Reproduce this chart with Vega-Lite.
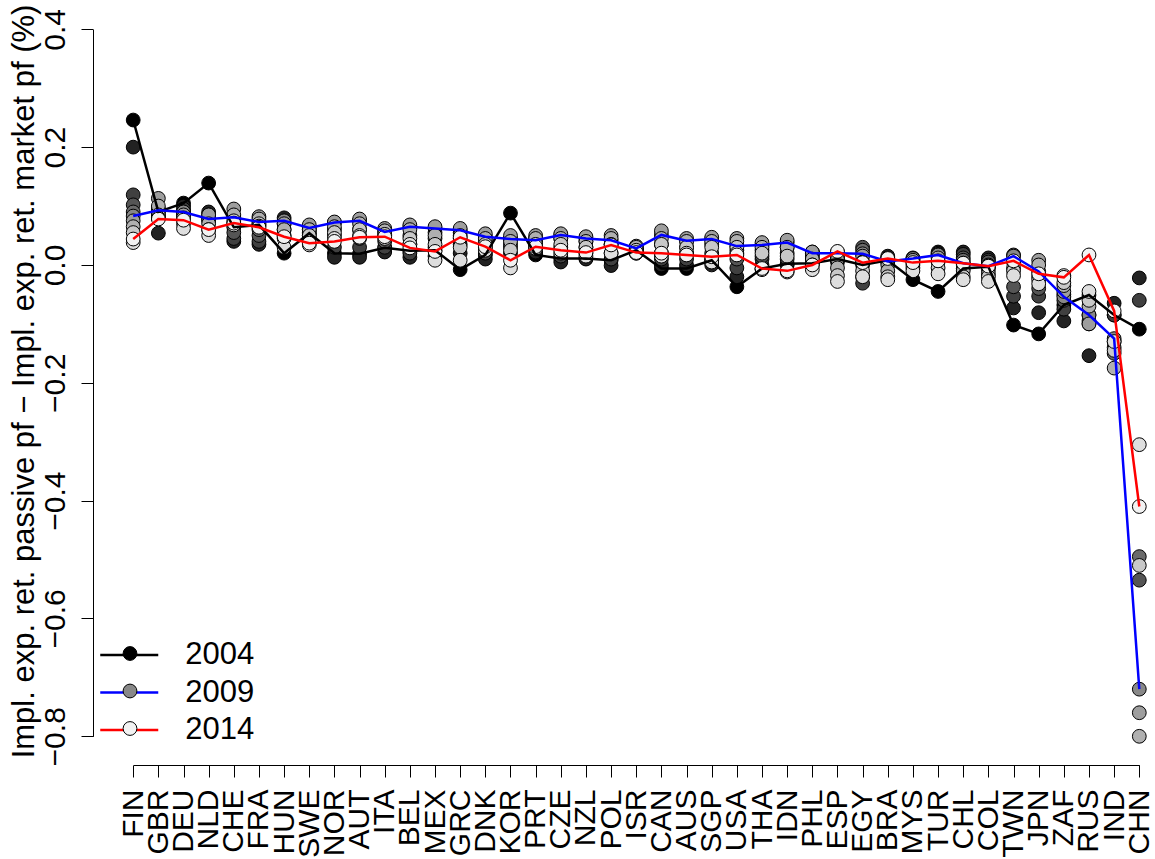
{
"$schema": "https://vega.github.io/schema/vega-lite/v6.json",
"width": 1062, "height": 763,
"autosize": {"type": "none"},
"padding": {"left": 93, "top": 2, "right": 0, "bottom": 94},
"background": "white",
"config": {"view": {"stroke": null}, "font": "Liberation Sans"},
"data": {"values": [
{"c":"FIN","yr":2004,"v":0.246},{"c":"FIN","yr":2005,"v":0.200},{"c":"FIN","yr":2006,"v":0.119},{"c":"FIN","yr":2007,"v":0.102},{"c":"FIN","yr":2008,"v":0.090},{"c":"FIN","yr":2009,"v":0.083},{"c":"FIN","yr":2010,"v":0.075},{"c":"FIN","yr":2011,"v":0.065},{"c":"FIN","yr":2012,"v":0.055},{"c":"FIN","yr":2013,"v":0.038},{"c":"FIN","yr":2014,"v":0.044},
{"c":"GBR","yr":2004,"v":0.090},{"c":"GBR","yr":2005,"v":0.054},{"c":"GBR","yr":2006,"v":0.080},{"c":"GBR","yr":2007,"v":0.085},{"c":"GBR","yr":2008,"v":0.095},{"c":"GBR","yr":2009,"v":0.093},{"c":"GBR","yr":2010,"v":0.113},{"c":"GBR","yr":2011,"v":0.100},{"c":"GBR","yr":2012,"v":0.085},{"c":"GBR","yr":2013,"v":0.080},{"c":"GBR","yr":2014,"v":0.078},
{"c":"DEU","yr":2004,"v":0.105},{"c":"DEU","yr":2005,"v":0.100},{"c":"DEU","yr":2006,"v":0.095},{"c":"DEU","yr":2007,"v":0.090},{"c":"DEU","yr":2008,"v":0.085},{"c":"DEU","yr":2009,"v":0.090},{"c":"DEU","yr":2010,"v":0.085},{"c":"DEU","yr":2011,"v":0.080},{"c":"DEU","yr":2012,"v":0.070},{"c":"DEU","yr":2013,"v":0.062},{"c":"DEU","yr":2014,"v":0.076},
{"c":"NLD","yr":2004,"v":0.139},{"c":"NLD","yr":2005,"v":0.090},{"c":"NLD","yr":2006,"v":0.085},{"c":"NLD","yr":2007,"v":0.080},{"c":"NLD","yr":2008,"v":0.075},{"c":"NLD","yr":2009,"v":0.078},{"c":"NLD","yr":2010,"v":0.085},{"c":"NLD","yr":2011,"v":0.070},{"c":"NLD","yr":2012,"v":0.060},{"c":"NLD","yr":2013,"v":0.050},{"c":"NLD","yr":2014,"v":0.060},
{"c":"CHE","yr":2004,"v":0.064},{"c":"CHE","yr":2005,"v":0.040},{"c":"CHE","yr":2006,"v":0.045},{"c":"CHE","yr":2007,"v":0.055},{"c":"CHE","yr":2008,"v":0.070},{"c":"CHE","yr":2009,"v":0.081},{"c":"CHE","yr":2010,"v":0.095},{"c":"CHE","yr":2011,"v":0.085},{"c":"CHE","yr":2012,"v":0.075},{"c":"CHE","yr":2013,"v":0.068},{"c":"CHE","yr":2014,"v":0.071},
{"c":"FRA","yr":2004,"v":0.068},{"c":"FRA","yr":2005,"v":0.035},{"c":"FRA","yr":2006,"v":0.040},{"c":"FRA","yr":2007,"v":0.050},{"c":"FRA","yr":2008,"v":0.060},{"c":"FRA","yr":2009,"v":0.073},{"c":"FRA","yr":2010,"v":0.082},{"c":"FRA","yr":2011,"v":0.078},{"c":"FRA","yr":2012,"v":0.070},{"c":"FRA","yr":2013,"v":0.066},{"c":"FRA","yr":2014,"v":0.064},
{"c":"HUN","yr":2004,"v":0.020},{"c":"HUN","yr":2005,"v":0.080},{"c":"HUN","yr":2006,"v":0.070},{"c":"HUN","yr":2007,"v":0.060},{"c":"HUN","yr":2008,"v":0.050},{"c":"HUN","yr":2009,"v":0.075},{"c":"HUN","yr":2010,"v":0.070},{"c":"HUN","yr":2011,"v":0.060},{"c":"HUN","yr":2012,"v":0.045},{"c":"HUN","yr":2013,"v":0.030},{"c":"HUN","yr":2014,"v":0.048},
{"c":"SWE","yr":2004,"v":0.054},{"c":"SWE","yr":2005,"v":0.045},{"c":"SWE","yr":2006,"v":0.050},{"c":"SWE","yr":2007,"v":0.055},{"c":"SWE","yr":2008,"v":0.060},{"c":"SWE","yr":2009,"v":0.063},{"c":"SWE","yr":2010,"v":0.068},{"c":"SWE","yr":2011,"v":0.060},{"c":"SWE","yr":2012,"v":0.050},{"c":"SWE","yr":2013,"v":0.034},{"c":"SWE","yr":2014,"v":0.037},
{"c":"NOR","yr":2004,"v":0.020},{"c":"NOR","yr":2005,"v":0.013},{"c":"NOR","yr":2006,"v":0.030},{"c":"NOR","yr":2007,"v":0.050},{"c":"NOR","yr":2008,"v":0.060},{"c":"NOR","yr":2009,"v":0.072},{"c":"NOR","yr":2010,"v":0.073},{"c":"NOR","yr":2011,"v":0.065},{"c":"NOR","yr":2012,"v":0.055},{"c":"NOR","yr":2013,"v":0.045},{"c":"NOR","yr":2014,"v":0.040},
{"c":"AUT","yr":2004,"v":0.019},{"c":"AUT","yr":2005,"v":0.013},{"c":"AUT","yr":2006,"v":0.030},{"c":"AUT","yr":2007,"v":0.045},{"c":"AUT","yr":2008,"v":0.060},{"c":"AUT","yr":2009,"v":0.075},{"c":"AUT","yr":2010,"v":0.078},{"c":"AUT","yr":2011,"v":0.070},{"c":"AUT","yr":2012,"v":0.060},{"c":"AUT","yr":2013,"v":0.050},{"c":"AUT","yr":2014,"v":0.047},
{"c":"ITA","yr":2004,"v":0.029},{"c":"ITA","yr":2005,"v":0.022},{"c":"ITA","yr":2006,"v":0.030},{"c":"ITA","yr":2007,"v":0.040},{"c":"ITA","yr":2008,"v":0.050},{"c":"ITA","yr":2009,"v":0.056},{"c":"ITA","yr":2010,"v":0.062},{"c":"ITA","yr":2011,"v":0.058},{"c":"ITA","yr":2012,"v":0.052},{"c":"ITA","yr":2013,"v":0.045},{"c":"ITA","yr":2014,"v":0.048},
{"c":"BEL","yr":2004,"v":0.024},{"c":"BEL","yr":2005,"v":0.013},{"c":"BEL","yr":2006,"v":0.020},{"c":"BEL","yr":2007,"v":0.035},{"c":"BEL","yr":2008,"v":0.050},{"c":"BEL","yr":2009,"v":0.065},{"c":"BEL","yr":2010,"v":0.068},{"c":"BEL","yr":2011,"v":0.060},{"c":"BEL","yr":2012,"v":0.045},{"c":"BEL","yr":2013,"v":0.035},{"c":"BEL","yr":2014,"v":0.029},
{"c":"MEX","yr":2004,"v":0.025},{"c":"MEX","yr":2005,"v":0.015},{"c":"MEX","yr":2006,"v":0.030},{"c":"MEX","yr":2007,"v":0.045},{"c":"MEX","yr":2008,"v":0.055},{"c":"MEX","yr":2009,"v":0.062},{"c":"MEX","yr":2010,"v":0.065},{"c":"MEX","yr":2011,"v":0.050},{"c":"MEX","yr":2012,"v":0.035},{"c":"MEX","yr":2013,"v":0.008},{"c":"MEX","yr":2014,"v":0.023},
{"c":"GRC","yr":2004,"v":-0.008},{"c":"GRC","yr":2005,"v":0.020},{"c":"GRC","yr":2006,"v":0.035},{"c":"GRC","yr":2007,"v":0.045},{"c":"GRC","yr":2008,"v":0.055},{"c":"GRC","yr":2009,"v":0.059},{"c":"GRC","yr":2010,"v":0.062},{"c":"GRC","yr":2011,"v":0.050},{"c":"GRC","yr":2012,"v":0.030},{"c":"GRC","yr":2013,"v":0.008},{"c":"GRC","yr":2014,"v":0.047},
{"c":"DNK","yr":2004,"v":0.017},{"c":"DNK","yr":2005,"v":0.010},{"c":"DNK","yr":2006,"v":0.020},{"c":"DNK","yr":2007,"v":0.030},{"c":"DNK","yr":2008,"v":0.040},{"c":"DNK","yr":2009,"v":0.048},{"c":"DNK","yr":2010,"v":0.053},{"c":"DNK","yr":2011,"v":0.045},{"c":"DNK","yr":2012,"v":0.035},{"c":"DNK","yr":2013,"v":0.025},{"c":"DNK","yr":2014,"v":0.031},
{"c":"KOR","yr":2004,"v":0.088},{"c":"KOR","yr":2005,"v":0.020},{"c":"KOR","yr":2006,"v":0.030},{"c":"KOR","yr":2007,"v":0.035},{"c":"KOR","yr":2008,"v":0.045},{"c":"KOR","yr":2009,"v":0.044},{"c":"KOR","yr":2010,"v":0.050},{"c":"KOR","yr":2011,"v":0.040},{"c":"KOR","yr":2012,"v":0.025},{"c":"KOR","yr":2013,"v":-0.005},{"c":"KOR","yr":2014,"v":0.008},
{"c":"PRT","yr":2004,"v":0.017},{"c":"PRT","yr":2005,"v":0.022},{"c":"PRT","yr":2006,"v":0.030},{"c":"PRT","yr":2007,"v":0.038},{"c":"PRT","yr":2008,"v":0.045},{"c":"PRT","yr":2009,"v":0.042},{"c":"PRT","yr":2010,"v":0.050},{"c":"PRT","yr":2011,"v":0.045},{"c":"PRT","yr":2012,"v":0.035},{"c":"PRT","yr":2013,"v":0.028},{"c":"PRT","yr":2014,"v":0.031},
{"c":"CZE","yr":2004,"v":0.011},{"c":"CZE","yr":2005,"v":0.005},{"c":"CZE","yr":2006,"v":0.015},{"c":"CZE","yr":2007,"v":0.030},{"c":"CZE","yr":2008,"v":0.045},{"c":"CZE","yr":2009,"v":0.051},{"c":"CZE","yr":2010,"v":0.053},{"c":"CZE","yr":2011,"v":0.045},{"c":"CZE","yr":2012,"v":0.035},{"c":"CZE","yr":2013,"v":0.020},{"c":"CZE","yr":2014,"v":0.025},
{"c":"NZL","yr":2004,"v":0.011},{"c":"NZL","yr":2005,"v":0.010},{"c":"NZL","yr":2006,"v":0.020},{"c":"NZL","yr":2007,"v":0.030},{"c":"NZL","yr":2008,"v":0.040},{"c":"NZL","yr":2009,"v":0.045},{"c":"NZL","yr":2010,"v":0.048},{"c":"NZL","yr":2011,"v":0.040},{"c":"NZL","yr":2012,"v":0.030},{"c":"NZL","yr":2013,"v":0.015},{"c":"NZL","yr":2014,"v":0.021},
{"c":"POL","yr":2004,"v":0.008},{"c":"POL","yr":2005,"v":-0.001},{"c":"POL","yr":2006,"v":0.010},{"c":"POL","yr":2007,"v":0.020},{"c":"POL","yr":2008,"v":0.035},{"c":"POL","yr":2009,"v":0.042},{"c":"POL","yr":2010,"v":0.050},{"c":"POL","yr":2011,"v":0.045},{"c":"POL","yr":2012,"v":0.035},{"c":"POL","yr":2013,"v":0.020},{"c":"POL","yr":2014,"v":0.034},
{"c":"ISR","yr":2004,"v":0.025},{"c":"ISR","yr":2005,"v":0.020},{"c":"ISR","yr":2006,"v":0.022},{"c":"ISR","yr":2007,"v":0.025},{"c":"ISR","yr":2008,"v":0.028},{"c":"ISR","yr":2009,"v":0.028},{"c":"ISR","yr":2010,"v":0.032},{"c":"ISR","yr":2011,"v":0.030},{"c":"ISR","yr":2012,"v":0.025},{"c":"ISR","yr":2013,"v":0.020},{"c":"ISR","yr":2014,"v":0.021},
{"c":"CAN","yr":2004,"v":-0.006},{"c":"CAN","yr":2005,"v":0.000},{"c":"CAN","yr":2006,"v":0.010},{"c":"CAN","yr":2007,"v":0.020},{"c":"CAN","yr":2008,"v":0.035},{"c":"CAN","yr":2009,"v":0.051},{"c":"CAN","yr":2010,"v":0.058},{"c":"CAN","yr":2011,"v":0.045},{"c":"CAN","yr":2012,"v":0.035},{"c":"CAN","yr":2013,"v":0.015},{"c":"CAN","yr":2014,"v":0.020},
{"c":"AUS","yr":2004,"v":-0.006},{"c":"AUS","yr":2005,"v":0.000},{"c":"AUS","yr":2006,"v":0.010},{"c":"AUS","yr":2007,"v":0.020},{"c":"AUS","yr":2008,"v":0.030},{"c":"AUS","yr":2009,"v":0.041},{"c":"AUS","yr":2010,"v":0.045},{"c":"AUS","yr":2011,"v":0.040},{"c":"AUS","yr":2012,"v":0.030},{"c":"AUS","yr":2013,"v":0.020},{"c":"AUS","yr":2014,"v":0.017},
{"c":"SGP","yr":2004,"v":0.008},{"c":"SGP","yr":2005,"v":0.000},{"c":"SGP","yr":2006,"v":0.010},{"c":"SGP","yr":2007,"v":0.020},{"c":"SGP","yr":2008,"v":0.035},{"c":"SGP","yr":2009,"v":0.044},{"c":"SGP","yr":2010,"v":0.047},{"c":"SGP","yr":2011,"v":0.040},{"c":"SGP","yr":2012,"v":0.030},{"c":"SGP","yr":2013,"v":0.005},{"c":"SGP","yr":2014,"v":0.014},
{"c":"USA","yr":2004,"v":-0.037},{"c":"USA","yr":2005,"v":-0.020},{"c":"USA","yr":2006,"v":-0.005},{"c":"USA","yr":2007,"v":0.010},{"c":"USA","yr":2008,"v":0.025},{"c":"USA","yr":2009,"v":0.032},{"c":"USA","yr":2010,"v":0.045},{"c":"USA","yr":2011,"v":0.040},{"c":"USA","yr":2012,"v":0.030},{"c":"USA","yr":2013,"v":0.020},{"c":"USA","yr":2014,"v":0.017},
{"c":"THA","yr":2004,"v":-0.006},{"c":"THA","yr":2005,"v":0.000},{"c":"THA","yr":2006,"v":0.010},{"c":"THA","yr":2007,"v":0.015},{"c":"THA","yr":2008,"v":0.025},{"c":"THA","yr":2009,"v":0.034},{"c":"THA","yr":2010,"v":0.038},{"c":"THA","yr":2011,"v":0.030},{"c":"THA","yr":2012,"v":0.020},{"c":"THA","yr":2013,"v":-0.008},{"c":"THA","yr":2014,"v":-0.006},
{"c":"IDN","yr":2004,"v":0.002},{"c":"IDN","yr":2005,"v":0.000},{"c":"IDN","yr":2006,"v":0.010},{"c":"IDN","yr":2007,"v":0.020},{"c":"IDN","yr":2008,"v":0.030},{"c":"IDN","yr":2009,"v":0.038},{"c":"IDN","yr":2010,"v":0.042},{"c":"IDN","yr":2011,"v":0.030},{"c":"IDN","yr":2012,"v":0.015},{"c":"IDN","yr":2013,"v":-0.012},{"c":"IDN","yr":2014,"v":-0.010},
{"c":"PHL","yr":2004,"v":0.003},{"c":"PHL","yr":2005,"v":0.010},{"c":"PHL","yr":2006,"v":0.015},{"c":"PHL","yr":2007,"v":0.020},{"c":"PHL","yr":2008,"v":0.022},{"c":"PHL","yr":2009,"v":0.020},{"c":"PHL","yr":2010,"v":0.022},{"c":"PHL","yr":2011,"v":0.010},{"c":"PHL","yr":2012,"v":0.000},{"c":"PHL","yr":2013,"v":-0.008},{"c":"PHL","yr":2014,"v":0.000},
{"c":"ESP","yr":2004,"v":0.010},{"c":"ESP","yr":2005,"v":0.005},{"c":"ESP","yr":2006,"v":0.012},{"c":"ESP","yr":2007,"v":0.018},{"c":"ESP","yr":2008,"v":0.022},{"c":"ESP","yr":2009,"v":0.020},{"c":"ESP","yr":2010,"v":0.010},{"c":"ESP","yr":2011,"v":-0.005},{"c":"ESP","yr":2012,"v":-0.018},{"c":"ESP","yr":2013,"v":-0.028},{"c":"ESP","yr":2014,"v":0.023},
{"c":"EGY","yr":2004,"v":0.000},{"c":"EGY","yr":2005,"v":-0.020},{"c":"EGY","yr":2006,"v":-0.031},{"c":"EGY","yr":2007,"v":0.030},{"c":"EGY","yr":2008,"v":0.025},{"c":"EGY","yr":2009,"v":0.019},{"c":"EGY","yr":2010,"v":0.015},{"c":"EGY","yr":2011,"v":0.005},{"c":"EGY","yr":2012,"v":-0.010},{"c":"EGY","yr":2013,"v":-0.020},{"c":"EGY","yr":2014,"v":0.004},
{"c":"BRA","yr":2004,"v":0.008},{"c":"BRA","yr":2005,"v":0.015},{"c":"BRA","yr":2006,"v":0.012},{"c":"BRA","yr":2007,"v":0.010},{"c":"BRA","yr":2008,"v":0.005},{"c":"BRA","yr":2009,"v":0.006},{"c":"BRA","yr":2010,"v":0.000},{"c":"BRA","yr":2011,"v":-0.010},{"c":"BRA","yr":2012,"v":-0.020},{"c":"BRA","yr":2013,"v":-0.025},{"c":"BRA","yr":2014,"v":0.011},
{"c":"MYS","yr":2004,"v":-0.025},{"c":"MYS","yr":2005,"v":0.012},{"c":"MYS","yr":2006,"v":0.010},{"c":"MYS","yr":2007,"v":0.008},{"c":"MYS","yr":2008,"v":0.005},{"c":"MYS","yr":2009,"v":0.011},{"c":"MYS","yr":2010,"v":0.008},{"c":"MYS","yr":2011,"v":0.000},{"c":"MYS","yr":2012,"v":-0.005},{"c":"MYS","yr":2013,"v":-0.010},{"c":"MYS","yr":2014,"v":0.004},
{"c":"TUR","yr":2004,"v":-0.045},{"c":"TUR","yr":2005,"v":0.022},{"c":"TUR","yr":2006,"v":0.020},{"c":"TUR","yr":2007,"v":0.018},{"c":"TUR","yr":2008,"v":0.015},{"c":"TUR","yr":2009,"v":0.017},{"c":"TUR","yr":2010,"v":0.012},{"c":"TUR","yr":2011,"v":0.005},{"c":"TUR","yr":2012,"v":-0.005},{"c":"TUR","yr":2013,"v":-0.015},{"c":"TUR","yr":2014,"v":0.007},
{"c":"CHL","yr":2004,"v":-0.006},{"c":"CHL","yr":2005,"v":0.022},{"c":"CHL","yr":2006,"v":0.018},{"c":"CHL","yr":2007,"v":0.012},{"c":"CHL","yr":2008,"v":0.008},{"c":"CHL","yr":2009,"v":0.003},{"c":"CHL","yr":2010,"v":0.000},{"c":"CHL","yr":2011,"v":-0.010},{"c":"CHL","yr":2012,"v":-0.020},{"c":"CHL","yr":2013,"v":-0.025},{"c":"CHL","yr":2014,"v":0.003},
{"c":"COL","yr":2004,"v":-0.003},{"c":"COL","yr":2005,"v":0.012},{"c":"COL","yr":2006,"v":0.008},{"c":"COL","yr":2007,"v":0.005},{"c":"COL","yr":2008,"v":0.000},{"c":"COL","yr":2009,"v":-0.002},{"c":"COL","yr":2010,"v":-0.008},{"c":"COL","yr":2011,"v":-0.015},{"c":"COL","yr":2012,"v":-0.020},{"c":"COL","yr":2013,"v":-0.028},{"c":"COL","yr":2014,"v":-0.002},
{"c":"TWN","yr":2004,"v":-0.102},{"c":"TWN","yr":2005,"v":-0.073},{"c":"TWN","yr":2006,"v":-0.053},{"c":"TWN","yr":2007,"v":-0.037},{"c":"TWN","yr":2008,"v":0.017},{"c":"TWN","yr":2009,"v":0.015},{"c":"TWN","yr":2010,"v":0.005},{"c":"TWN","yr":2011,"v":-0.005},{"c":"TWN","yr":2012,"v":-0.010},{"c":"TWN","yr":2013,"v":-0.018},{"c":"TWN","yr":2014,"v":0.007},
{"c":"JPN","yr":2004,"v":-0.117},{"c":"JPN","yr":2005,"v":-0.081},{"c":"JPN","yr":2006,"v":-0.053},{"c":"JPN","yr":2007,"v":-0.040},{"c":"JPN","yr":2008,"v":-0.020},{"c":"JPN","yr":2009,"v":-0.011},{"c":"JPN","yr":2010,"v":0.008},{"c":"JPN","yr":2011,"v":0.000},{"c":"JPN","yr":2012,"v":-0.025},{"c":"JPN","yr":2013,"v":-0.032},{"c":"JPN","yr":2014,"v":-0.015},
{"c":"ZAF","yr":2004,"v":-0.068},{"c":"ZAF","yr":2005,"v":-0.095},{"c":"ZAF","yr":2006,"v":-0.075},{"c":"ZAF","yr":2007,"v":-0.060},{"c":"ZAF","yr":2008,"v":-0.050},{"c":"ZAF","yr":2009,"v":-0.054},{"c":"ZAF","yr":2010,"v":-0.045},{"c":"ZAF","yr":2011,"v":-0.035},{"c":"ZAF","yr":2012,"v":-0.030},{"c":"ZAF","yr":2013,"v":-0.018},{"c":"ZAF","yr":2014,"v":-0.021},
{"c":"RUS","yr":2004,"v":-0.051},{"c":"RUS","yr":2005,"v":-0.154},{"c":"RUS","yr":2006,"v":-0.100},{"c":"RUS","yr":2007,"v":-0.095},{"c":"RUS","yr":2008,"v":-0.085},{"c":"RUS","yr":2009,"v":-0.085},{"c":"RUS","yr":2010,"v":-0.100},{"c":"RUS","yr":2011,"v":-0.070},{"c":"RUS","yr":2012,"v":-0.060},{"c":"RUS","yr":2013,"v":-0.045},{"c":"RUS","yr":2014,"v":0.017},
{"c":"IND","yr":2004,"v":-0.085},{"c":"IND","yr":2005,"v":-0.065},{"c":"IND","yr":2006,"v":-0.085},{"c":"IND","yr":2007,"v":-0.130},{"c":"IND","yr":2008,"v":-0.150},{"c":"IND","yr":2009,"v":-0.125},{"c":"IND","yr":2010,"v":-0.140},{"c":"IND","yr":2011,"v":-0.175},{"c":"IND","yr":2012,"v":-0.145},{"c":"IND","yr":2013,"v":-0.130},{"c":"IND","yr":2014,"v":-0.078},
{"c":"CHN","yr":2004,"v":-0.109},{"c":"CHN","yr":2005,"v":-0.022},{"c":"CHN","yr":2006,"v":-0.060},{"c":"CHN","yr":2007,"v":-0.535},{"c":"CHN","yr":2008,"v":-0.495},{"c":"CHN","yr":2009,"v":-0.720},{"c":"CHN","yr":2010,"v":-0.760},{"c":"CHN","yr":2011,"v":-0.800},{"c":"CHN","yr":2012,"v":-0.510},{"c":"CHN","yr":2013,"v":-0.305},{"c":"CHN","yr":2014,"v":-0.410}
]},
"encoding": {
  "x": {"field": "c", "type": "nominal",
    "scale": {"type": "point", "padding": 0, "range": [40.2, 1046.3],
      "domain": ["FIN","GBR","DEU","NLD","CHE","FRA","HUN","SWE","NOR","AUT","ITA","BEL","MEX","GRC","DNK","KOR","PRT","CZE","NZL","POL","ISR","CAN","AUS","SGP","USA","THA","IDN","PHL","ESP","EGY","BRA","MYS","TUR","CHL","COL","TWN","JPN","ZAF","RUS","IND","CHN"]},
    "axis": {"title": null, "grid": false, "labelAngle": 270, "labelAlign": "right", "labelBaseline": "middle",
      "labelFontSize": 30, "labelColor": "black", "labelPadding": 12, "labelOverlap": false, "labelBound": false, "labelFlush": false,
      "tickSize": 12, "tickColor": "black", "tickWidth": 1, "domainColor": "black", "domainWidth": 1}},
  "y": {"field": "v", "type": "quantitative",
    "scale": {"domain": [-0.8, 0.4], "range": [734.3, 27.3], "nice": false, "zero": false},
    "axis": {"title": "Impl. exp. ret. passive pf − Impl. exp. ret. market pf (%)", "grid": false,
      "values": [-0.8, -0.6, -0.4, -0.2, 0, 0.2, 0.4], "format": ".1f",
      "labelAngle": 270, "labelAlign": "center", "labelBaseline": "alphabetic", "labelPadding": 17,
      "labelFontSize": 30, "labelColor": "black", "labelOverlap": false, "labelFlush": false, "labelBound": false,
      "tickSize": 12, "tickColor": "black", "tickWidth": 1, "domainColor": "black", "domainWidth": 1,
      "titleFontSize": 31, "titleFontWeight": "normal", "titleColor": "black", "titleAngle": 270,
      "titleAlign": "center", "titleBaseline": "alphabetic", "titleX": -60, "titleY": 379}}
},
"layer": [
  {"mark": {"type": "circle", "size": 190, "stroke": "black", "strokeWidth": 1, "opacity": 1},
   "encoding": {
     "fill": {"field": "yr", "type": "ordinal",
       "scale": {"domain": [2004,2005,2006,2007,2008,2009,2010,2011,2012,2013,2014],
         "range": ["#000000","#222222","#404040","#555555","#6a6a6a","#888888","#9e9e9e","#b0b0b0","#c8c8c8","#dedede","#f2f2f2"]},
       "legend": {"orient": "none", "legendX": 29.5, "legendY": 644, "title": null, "values": [2004, 2009, 2014],
         "symbolType": "circle", "symbolSize": 190, "symbolStrokeColor": "black", "symbolStrokeWidth": 1, "symbolOpacity": 1,
         "labelExpr": "''", "labelFontSize": 1, "rowPadding": 18.5, "padding": 0, "zindex": 1}}
   }},
  {"transform": [{"filter": {"field": "yr", "oneOf": [2004, 2009, 2014]}}],
   "mark": {"type": "line", "strokeWidth": 2.5},
   "encoding": {
     "order": {"value": null},
     "stroke": {"field": "yr", "type": "ordinal",
       "scale": {"domain": [2004, 2009, 2014], "range": ["#000000", "#0000ff", "#ff0000"]},
       "legend": {"orient": "none", "legendX": 20.25, "legendY": 637, "title": null,
         "symbolType": "M-2,0H2", "symbolSize": 841, "symbolStrokeWidth": 2.5,
         "labelFontSize": 31, "labelColor": "black", "labelOffset": 40, "rowPadding": 6.5, "padding": 0}}
   }}
]
}
